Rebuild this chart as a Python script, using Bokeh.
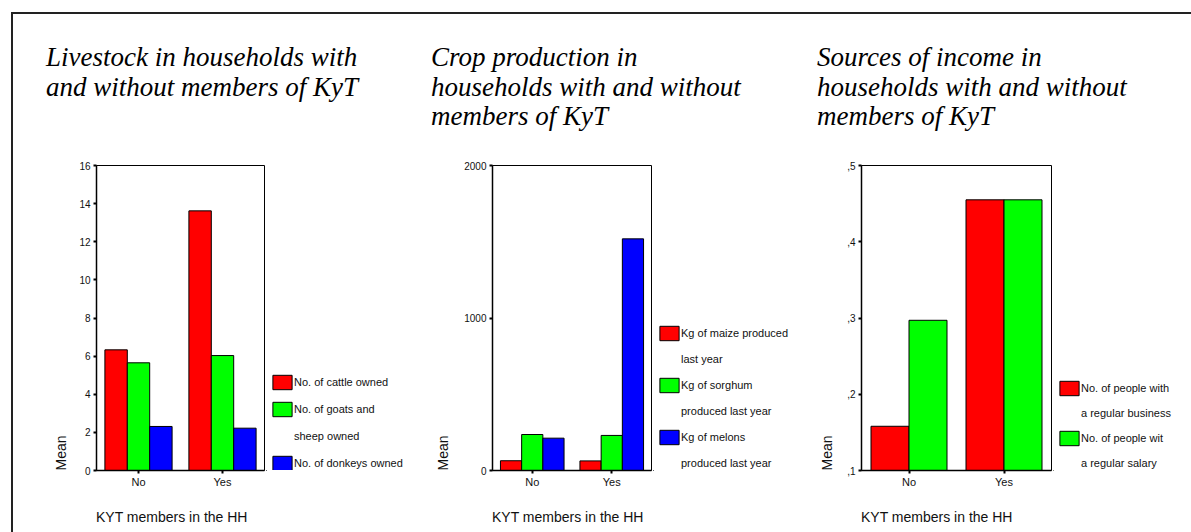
from bokeh.plotting import figure
from bokeh.models import (FactorRange, Range1d, FixedTicker, Legend, LegendItem,
                          ColumnDataSource, Div, Spacer, Title)
from bokeh.transform import dodge
from bokeh.layouts import row, column
from bokeh.embed import file_html
from bokeh.resources import INLINE

# ---------------- data ----------------
groups = ["No", "Yes"]

livestock_title = ["Livestock in households with", "and without members of KyT"]
livestock_series = [["No. of cattle owned"], ["No. of goats and", "sheep owned"],
                    ["No. of donkeys owned"]]
cattle = [6.33, 13.62]
goats_sheep = [5.65, 6.03]
donkeys = [2.31, 2.22]
livestock_ticks = [0, 2, 4, 6, 8, 10, 12, 14, 16]
livestock_tick_labels = ["0", "2", "4", "6", "8", "10", "12", "14", "16"]

crop_title = ["Crop production in", "households with and without", "members of KyT"]
crop_series = [["Kg of maize produced", "last year"], ["Kg of sorghum", "produced last year"],
               ["Kg of melons", "produced last year"]]
maize = [64, 63]
sorghum = [236, 230]
melons = [212, 1519]
crop_ticks = [0, 1000, 2000]
crop_tick_labels = ["0", "1000", "2000"]

income_title = ["Sources of income in", "households with and without", "members of KyT"]
income_series = [["No. of people with", "a regular business"],
                 ["No. of people wit", "a regular salary"]]
business = [0.158, 0.455]
salary = [0.297, 0.455]
income_ticks = [0.1, 0.2, 0.3, 0.4, 0.5]
income_tick_labels = [",1", ",2", ",3", ",4", ",5"]

x_label = "KYT members in the HH"
y_label = "Mean"

colors = ["#ff0000", "#00ff00", "#0000ff"]

TITLE_H = 130
FIG_H = 361
LABEL_H = 27
TOP = 21
BOTTOM = 35
TXT = "#111111"
FRAME_COLOR = "#222222"


def title_div(lines, width, pad_left):
    html = ('<div style="padding:29px 0 0 %dpx; font-family:\'Liberation Serif\', serif; '
            'font-style:italic; font-size:27px; line-height:29.5px; color:#000; '
            'white-space:nowrap;">%s</div>') % (pad_left, "<br>".join(lines))
    return Div(text=html, width=width, height=TITLE_H, margin=0)


def xlabel_div(width, pad_left):
    html = ('<div style="padding:4px 0 0 %dpx; font-family:\'Liberation Sans\', sans-serif; '
            'font-size:14px; line-height:16px; color:%s; white-space:nowrap;">%s</div>'
            ) % (pad_left, TXT, x_label)
    return Div(text=html, width=width, height=LABEL_H, margin=0)


def panel(series_values, ticks, tick_labels, width, border_left, mean_standoff):
    y0, y1 = ticks[0], ticks[-1]
    p = figure(x_range=FactorRange(*groups), y_range=Range1d(y0, y1),
               width=width, height=FIG_H, title=None,
               min_border_left=border_left, min_border_right=2,
               min_border_top=TOP, min_border_bottom=BOTTOM,
               output_backend="svg", toolbar_location=None, tools="")
    p.background_fill_color = "white"
    p.border_fill_color = "white"
    p.xgrid.visible = False
    p.ygrid.visible = False
    p.outline_line_color = "black"
    p.outline_line_width = 1

    data = dict(group=groups)
    for i, vals in enumerate(series_values):
        data[f"s{i}"] = vals
    src = ColumnDataSource(data)
    n = len(series_values)
    w = 0.8 / n
    for i in range(n):
        off = -0.4 + w * (i + 0.5)
        p.vbar(x=dodge("group", off, range=p.x_range), top=f"s{i}", bottom=y0,
               width=w, source=src, fill_color=colors[i], line_color="black",
               line_width=1)

    # axes
    p.yaxis.ticker = FixedTicker(ticks=ticks)
    p.yaxis.major_label_overrides = {t: l for t, l in zip(ticks, tick_labels)}
    for ax in (p.xaxis[0], p.yaxis[0]):
        ax.minor_tick_line_color = None
        ax.major_tick_in = 0
        ax.major_tick_out = 3
        ax.major_tick_line_width = 2
        ax.major_tick_line_color = "black"
        ax.axis_line_width = 1.5
        ax.axis_line_color = "black"
        ax.major_label_text_font = "Liberation Sans"
        ax.major_label_text_color = TXT
    p.yaxis.major_label_text_font_size = "10px"
    p.yaxis.major_label_standoff = 3
    p.xaxis.major_label_text_font_size = "11px"
    p.xaxis.major_label_standoff = 2

    # y axis title, at the bottom of the axis
    p.add_layout(Title(text=y_label, align="left", vertical_align="bottom",
                       standoff=mean_standoff, offset=0,
                       text_font="Liberation Sans", text_font_size="14px",
                       text_font_style="normal", text_color=TXT), "left")
    return p


def legend_fig(series_names, width, spacing):
    lf = figure(x_range=Range1d(0, 1), y_range=Range1d(0, 1), width=width, height=FIG_H,
                title=None, x_axis_type=None, y_axis_type=None,
                min_border_left=0, min_border_right=0,
                min_border_top=TOP, min_border_bottom=BOTTOM,
                output_backend="svg", toolbar_location=None, tools="")
    lf.outline_line_color = None
    lf.background_fill_color = "white"
    lf.border_fill_color = "white"
    items = []
    for i, lines in enumerate(series_names):
        # swatch renderer: its single bar lies outside the ranges, only the legend shows it
        swatch = lf.vbar(x=[-5], top=[-5], bottom=[-6], width=0.1, fill_color=colors[i],
                         line_color="black", line_width=1)
        items.append(LegendItem(label=lines[0], renderers=[swatch]))
        for extra in lines[1:]:
            blank = lf.vbar(x=[-5], top=[-5], bottom=[-6], width=0.1,
                            fill_alpha=0, line_alpha=0)
            items.append(LegendItem(label=extra, renderers=[blank]))
    legend = Legend(items=items, location=(4, -4), orientation="vertical",
                    label_text_font="Liberation Sans", label_text_font_size="11px",
                    label_text_color=TXT,
                    glyph_width=24, glyph_height=18, label_standoff=0,
                    spacing=spacing, padding=0, margin=0, label_height=22,
                    border_line_color=None, background_fill_alpha=0)
    lf.add_layout(legend, "center")
    return lf


p1 = panel([cattle, goats_sheep, donkeys], livestock_ticks, livestock_tick_labels, 253, 83, 15)
l1 = legend_fig(livestock_series, 146, 5)
p2 = panel([maize, sorghum, melons], crop_ticks, crop_tick_labels, 241, 80, 21)
l2 = legend_fig(crop_series, 146, 4)
p3 = panel([business, salary], income_ticks, income_tick_labels, 254, 62, 19)
l3 = legend_fig(income_series, 130, 3)

d1 = title_div(livestock_title, 399, 33)
d2 = title_div(crop_title, 387, 19)
d3 = title_div(income_title, 384, 18)

x1 = xlabel_div(399, 83)
x2 = xlabel_div(387, 80)
x3 = xlabel_div(384, 62)

content = column(row(d1, d2, d3), row(p1, l1, p2, l2, p3, l3), row(x1, x2, x3))
top_line = Div(text="", width=1180, height=2, margin=0,
               styles={"background-color": FRAME_COLOR})
left_line = Div(text="", width=2, height=TITLE_H + FIG_H + LABEL_H, margin=0,
                styles={"background-color": FRAME_COLOR})

layout = column(
    Spacer(width=1180, height=12),
    row(Spacer(width=11, height=2), top_line),
    row(Spacer(width=11, height=TITLE_H + FIG_H + LABEL_H), left_line, content),
)

open("out.html", "w").write(file_html(layout, INLINE))
